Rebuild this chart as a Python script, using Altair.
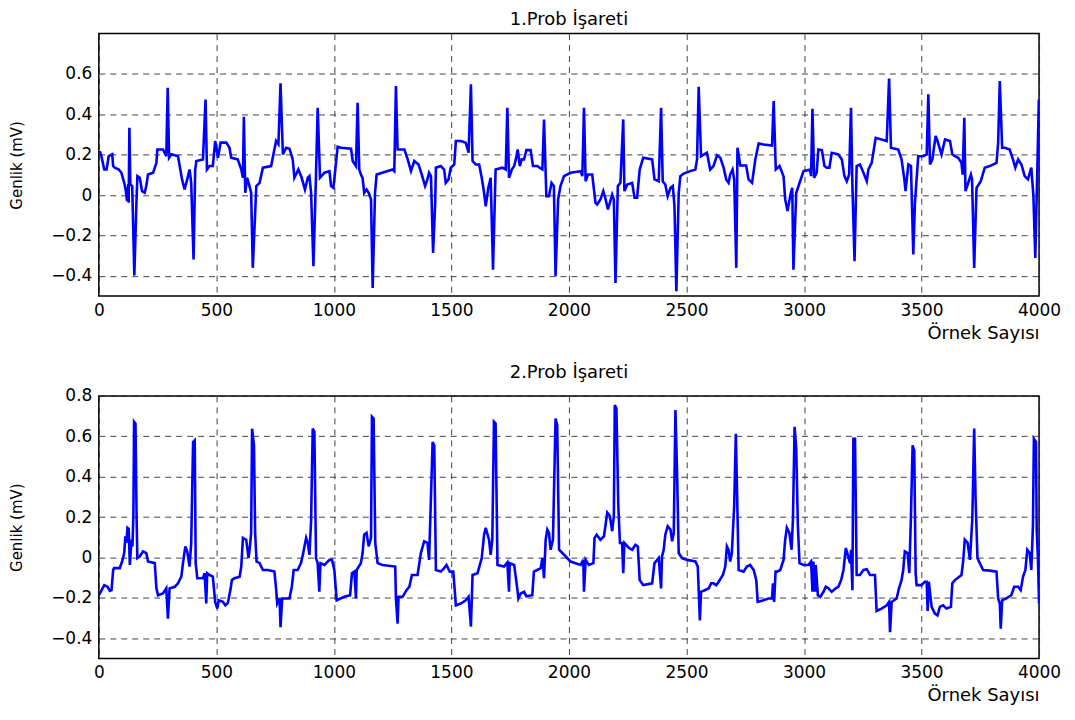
import altair as alt
import pandas as pd

# ---- 1.Prob signal (sample index, amplitude mV) ----
top_x = [4, 11, 23, 33, 42, 57, 61, 68, 85, 96, 108, 115, 120, 125, 127, 130, 134, 142, 151, 160,
         164, 174, 184, 195, 202, 209, 231, 245, 249, 273, 287, 293, 299, 309, 337, 344, 354, 365, 376, 386,
         393, 403, 410, 415, 443, 454, 460, 471, 485, 495, 507, 518, 542, 556, 563, 591, 606, 613, 617, 623,
         631, 641, 648, 655, 670, 684, 698, 733, 754, 764, 773, 783, 797, 811, 825, 832, 849, 863, 877, 889,
         896, 903, 913, 924, 931, 941, 960,
         981, 988, 998, 1006, 1016, 1030, 1073, 1080, 1094, 1101, 1108, 1115, 1122, 1129, 1139, 1148, 1158, 1165, 1175, 1182,
         1250, 1257, 1264, 1271, 1300, 1314, 1328, 1342, 1360, 1374, 1388, 1398, 1405, 1413, 1422, 1431, 1434, 1455, 1469, 1476,
         1488, 1497, 1512, 1519, 1540, 1561, 1573, 1583, 1590, 1604, 1618, 1629, 1639, 1646, 1657, 1667, 1677, 1688, 1717, 1731,
         1738, 1745, 1757, 1767, 1774, 1782, 1791, 1799, 1809, 1819, 1837, 1847, 1865, 1887, 1894, 1904, 1915, 1926, 1936, 1943,
         1954, 1964,
         1979, 2007, 2050, 2057, 2064, 2071, 2081, 2099, 2113, 2120, 2134, 2146, 2156, 2166, 2174, 2184, 2191, 2198, 2208, 2219,
         2231, 2236, 2248, 2269, 2279, 2290, 2301, 2316, 2354, 2364, 2382, 2392, 2399, 2410, 2420, 2432, 2442, 2449, 2457, 2467,
         2474, 2488, 2516, 2538, 2545, 2552, 2562, 2587, 2601, 2615, 2630, 2644, 2658, 2669, 2679, 2686, 2696, 2703, 2712, 2717,
         2729, 2754, 2764, 2779, 2793, 2807, 2828, 2864, 2871, 2880, 2896, 2913, 2920, 2930, 2941, 2950, 2955, 2967,
         2998, 3026, 3030, 3036, 3043, 3054, 3061, 3076, 3087, 3097, 3108, 3118, 3146, 3161, 3172, 3182, 3192, 3200, 3206, 3215,
         3224, 3238, 3253, 3267, 3274, 3288, 3305, 3352, 3362, 3370, 3401, 3415, 3427, 3432, 3444, 3455, 3465, 3472, 3486, 3507,
         3522, 3529, 3536, 3546, 3560, 3568, 3585, 3600, 3621, 3631, 3642, 3656, 3670, 3675, 3682, 3687, 3701, 3710, 3715, 3724,
         3734, 3752, 3769, 3790, 3819, 3826, 3833, 3843, 3854, 3875, 3889, 3899, 3911, 3925, 3939, 3953, 3967, 3976, 3984, 3993,
         3999]
top_y = [0.218, 0.193, 0.127, 0.127, 0.193, 0.202, 0.144, 0.136, 0.127, 0.111, 0.061, 0.020, -0.030, 0.053, -0.038, 0.334, 0.053, 0.045, -0.398, -0.038,
         0.094, 0.086, 0.020, 0.012, 0.045, 0.102, 0.111, 0.160, 0.226, 0.226, 0.193, 0.532, 0.185, 0.202, 0.193, 0.144, 0.078, 0.028, 0.078, 0.127,
         0.061, -0.319, 0.127, 0.169, 0.177, 0.474, 0.127, 0.144, 0.144, 0.268, 0.185, 0.260, 0.260, 0.235, 0.185, 0.177, 0.127, 0.086, 0.388, 0.012,
         0.086, 0.045, 0.012, -0.360, 0.045, 0.061, 0.136, 0.144, 0.268, 0.252, 0.554, 0.202, 0.235, 0.230, 0.177, 0.086, 0.127, 0.086, 0.028, 0.086,
         0.094, 0.012, -0.352, 0.102, 0.433, 0.086, 0.111,
         0.119, 0.045, 0.036, 0.127, 0.240, 0.235, 0.230, 0.169, 0.144, 0.458, 0.127, 0.102, 0.086, 0.012, 0.028, 0.012, -0.021, -0.460, 0.012, 0.102,
         0.127, 0.119, 0.540, 0.226, 0.226, 0.177, 0.119, 0.169, 0.152, 0.102, 0.045, 0.078, 0.111, 0.094, -0.286, -0.038, 0.136, 0.144, 0.127, 0.061,
         0.078, 0.136, 0.152, 0.268, 0.268, 0.260, 0.210, 0.549, 0.169, 0.152, 0.152, 0.086, 0.012, -0.055, 0.036, 0.086, -0.369, 0.127, 0.136, 0.127,
         0.433, 0.086, 0.127, 0.144, 0.177, 0.226, 0.144, 0.177, 0.177, 0.223, 0.223, 0.144, 0.144, 0.127, 0.375, -0.005, -0.005, 0.061, 0.045, -0.402,
         -0.021, 0.045,
         0.094, 0.111, 0.119, 0.094, 0.433, 0.069, 0.102, 0.102, -0.038, -0.046, -0.021, 0.020, -0.021, -0.071, -0.038, 0.003, -0.021, -0.435, 0.045, 0.061,
         0.375, 0.020, 0.053, 0.061, -0.013, -0.013, 0.127, 0.185, 0.177, 0.078, 0.069, 0.433, 0.069, 0.053, -0.005, 0.036, 0.045, -0.055, -0.476, 0.012,
         0.094, 0.107, 0.119, 0.127, 0.177, 0.537, 0.193, 0.210, 0.127, 0.144, 0.197, 0.185, 0.136, 0.078, 0.061, 0.102, 0.127, 0.078, -0.360, 0.235,
         0.147, 0.147, 0.078, 0.061, 0.177, 0.256, 0.251, 0.246, 0.466, 0.127, 0.144, 0.094, -0.021, -0.079, -0.005, 0.036, -0.369, 0.012,
         0.119, 0.127, 0.094, 0.428, 0.086, 0.111, 0.226, 0.223, 0.144, 0.136, 0.136, 0.210, 0.202, 0.177, 0.094, 0.069, 0.102, 0.433, 0.045, -0.327,
         0.144, 0.152, 0.111, 0.069, 0.127, 0.160, 0.284, 0.268, 0.577, 0.235, 0.226, 0.177, 0.078, 0.020, 0.152, 0.144, -0.294, -0.038, 0.193, 0.193,
         0.202, 0.499, 0.152, 0.177, 0.293, 0.268, 0.202, 0.276, 0.268, 0.202, 0.193, 0.185, 0.160, 0.102, 0.383, 0.020, 0.069, 0.102, 0.078, -0.360,
         0.036, 0.069, 0.136, 0.144, 0.160, 0.260, 0.565, 0.235, 0.235, 0.226, 0.177, 0.136, 0.177, 0.152, 0.094, 0.078, 0.136, -0.005, -0.311, 0.144,
         0.474]

# ---- 2.Prob signal ----
bot_x = [0, 8, 23, 37, 47, 54, 61, 65, 89, 99, 108, 113, 117, 122, 127, 132, 139, 143, 147, 150,
         156, 161, 164, 174, 188, 202, 209, 238, 245, 252, 273, 287, 294, 301, 323, 337, 351, 358, 368, 376,
         386, 393, 401, 408, 412, 419, 443, 450, 457, 461, 471, 485, 495, 504, 510, 528, 538, 549, 561, 566,
         577, 599, 606, 613, 627, 637, 643, 648, 652, 660, 665, 671, 684, 698, 719, 747, 754, 759, 769, 773,
         780, 797, 811, 821, 829, 846, 860, 868, 875, 882, 889, 896, 903, 910, 917, 924, 931, 938, 943, 960,
         981, 992, 1002, 1012, 1044, 1069, 1077, 1087, 1094, 1097, 1115, 1122, 1129, 1139, 1148, 1158, 1162, 1169, 1176, 1186,
         1207, 1261, 1264, 1271, 1275, 1292, 1309, 1321, 1332, 1356, 1370, 1384, 1398, 1405, 1420, 1427, 1434, 1455, 1469, 1479,
         1493, 1508, 1519, 1540, 1561, 1573, 1583, 1590, 1611, 1629, 1639, 1646, 1660, 1667, 1674, 1681, 1688, 1696, 1724, 1738,
         1745, 1748, 1767, 1781, 1785, 1795, 1809, 1819, 1844, 1851, 1865, 1880, 1887, 1894, 1901, 1908, 1915, 1922, 1932, 1943,
         1950, 1958, 1972,
         2007, 2050, 2061, 2064, 2071, 2085, 2104, 2109, 2118, 2134, 2149, 2156, 2163, 2174, 2184, 2191, 2195, 2202, 2210, 2217,
         2226, 2231, 2236, 2255, 2269, 2283, 2293, 2301, 2316, 2354, 2364, 2382, 2392, 2396, 2403, 2410, 2420, 2432, 2439, 2446,
         2453, 2460, 2467, 2481, 2503, 2538, 2548, 2552, 2557, 2562, 2573, 2595, 2605, 2615, 2627, 2637, 2655, 2665, 2672, 2679,
         2686, 2693, 2703, 2710, 2715, 2722, 2743, 2757, 2771, 2786, 2797, 2803, 2828, 2849, 2864, 2868, 2873, 2879, 2885, 2899,
         2913, 2920, 2927, 2938, 2947, 2953, 2960, 2967, 2974, 2981,
         2998, 3019, 3030, 3036, 3040, 3047, 3050, 3059, 3069, 3083, 3093, 3104, 3118, 3135, 3146, 3158, 3168, 3178, 3186, 3196,
         3200, 3206, 3210, 3217, 3224, 3238, 3253, 3267, 3281, 3302, 3309, 3330, 3352, 3362, 3366, 3373, 3394, 3404, 3415, 3422,
         3429, 3441, 3448, 3455, 3462, 3469, 3475, 3479, 3500, 3514, 3522, 3526, 3531, 3543, 3557, 3568, 3578, 3592, 3606, 3625,
         3631, 3642, 3670, 3677, 3684, 3696, 3706, 3716, 3724, 3730, 3738, 3748, 3762, 3790, 3819, 3826, 3833, 3837, 3843, 3861,
         3882, 3894, 3911, 3922, 3932, 3942, 3950, 3960, 3967, 3974, 3978, 3987, 3990, 3995, 4000]
bot_y = [-0.187, -0.170, -0.137, -0.145, -0.165, -0.162, -0.062, -0.053, -0.053, -0.020, 0.022, 0.105, 0.072, 0.147, 0.142, -0.037, 0.088, 0.055, 0.205, 0.672,
         0.663, 0.172, -0.003, 0.005, 0.030, 0.022, -0.020, -0.028, -0.153, -0.187, -0.178, -0.153, -0.303, -0.153, -0.145, -0.128, -0.095, -0.028, 0.055, 0.030,
         -0.045, 0.072, 0.572, 0.580, -0.028, -0.103, -0.103, -0.078, -0.228, -0.078, -0.087, -0.095, -0.220, -0.253, -0.212, -0.220, -0.237, -0.225, -0.153, -0.112,
         -0.103, -0.095, -0.045, 0.097, 0.088, -0.003, 0.055, 0.122, 0.638, 0.555, 0.122, -0.020, -0.028, -0.062, -0.062, -0.070, -0.153, -0.228, -0.203, -0.345,
         -0.203, -0.203, -0.203, -0.145, -0.062, -0.062, -0.028, 0.013, 0.055, 0.097, 0.072, 0.013, 0.180, 0.638, 0.622, -0.003, -0.028, -0.170, -0.028, -0.037,
         -0.012, -0.012, -0.062, -0.212, -0.195, -0.187, -0.078, -0.070, -0.203, -0.062, -0.028, 0.022, 0.113, 0.122, 0.055, 0.097, 0.697, 0.688, 0.072, -0.028,
         -0.037, -0.045, -0.203, -0.328, -0.195, -0.195, -0.162, -0.145, -0.087, -0.087, 0.022, 0.080, 0.072, -0.012, 0.572, 0.555, -0.062, -0.070, -0.053, -0.037,
         -0.070, -0.070, -0.237, -0.228, -0.212, -0.195, -0.342, -0.087, -0.078, -0.003, 0.113, 0.147, 0.088, 0.013, 0.088, 0.672, 0.663, -0.037, -0.045, -0.025,
         -0.170, -0.028, -0.037, -0.162, -0.203, -0.178, -0.170, -0.192, -0.187, -0.070, -0.062, -0.053, -0.003, -0.103, 0.088, 0.138, 0.122, 0.038, 0.088, 0.688,
         0.655, 0.038, 0.022,
         -0.020, -0.037, -0.012, -0.170, -0.012, -0.037, -0.028, 0.097, 0.113, 0.088, 0.105, 0.163, 0.222, 0.205, 0.130, 0.205, 0.755, 0.738, 0.255, 0.072,
         0.072, -0.078, 0.072, 0.047, 0.038, 0.063, 0.055, -0.112, -0.137, -0.128, -0.028, -0.003, -0.153, 0.005, 0.038, 0.113, 0.155, 0.138, 0.080, 0.122,
         0.730, 0.422, 0.022, -0.003, -0.012, -0.020, -0.045, -0.162, -0.312, -0.170, -0.165, -0.153, -0.128, -0.128, -0.137, -0.120, -0.087, -0.045, 0.055, 0.038,
         -0.020, 0.022, 0.255, 0.613, 0.338, -0.062, -0.070, -0.045, -0.037, -0.062, -0.112, -0.220, -0.212, -0.203, -0.203, -0.128, -0.220, -0.070, -0.070, -0.062,
         -0.012, 0.088, 0.147, 0.122, 0.038, 0.188, 0.647, 0.538, 0.155, -0.028,
         -0.037, -0.037, -0.020, -0.170, -0.020, -0.170, -0.037, -0.187, -0.195, -0.170, -0.145, -0.153, -0.170, -0.153, -0.145, -0.112, -0.062, 0.047, 0.013, -0.028,
         0.038, -0.162, 0.588, 0.588, -0.087, -0.087, -0.062, -0.058, -0.087, -0.087, -0.265, -0.253, -0.237, -0.220, -0.370, -0.220, -0.203, -0.153, -0.112, -0.062,
         0.030, 0.022, -0.078, 0.205, 0.555, 0.530, -0.078, -0.137, -0.137, -0.120, -0.120, -0.265, -0.120, -0.245, -0.278, -0.287, -0.245, -0.237, -0.253, -0.245,
         -0.128, -0.112, -0.087, -0.020, 0.088, 0.072, -0.012, 0.188, 0.638, 0.288, -0.003, -0.028, -0.062, -0.065, -0.070, -0.203, -0.228, -0.353, -0.212, -0.203,
         -0.187, -0.145, -0.145, -0.162, -0.095, -0.062, 0.038, 0.022, -0.062, 0.155, 0.588, 0.572, 0.138, 0.005, -0.228]

x_ticks = [0, 500, 1000, 1500, 2000, 2500, 3000, 3500, 4000]
top_yticks = [-0.4, -0.2, 0, 0.2, 0.4, 0.6]
bot_yticks = [-0.4, -0.2, 0, 0.2, 0.4, 0.6, 0.8]
titles = ["1.Prob İşareti", "2.Prob İşareti"]
x_title = "Örnek Sayısı"
y_title = "Genlik (mV)"

FONT = "DejaVu Sans"


def panel(xs, ys, title, yticks):
    df = pd.DataFrame({"x": xs, "y": ys})
    return (
        alt.Chart(df, title=alt.Title(title, fontSize=18, font=FONT, fontWeight="normal",
                                      color="black", offset=5))
        .mark_line(color="#0000ff", strokeWidth=2.6, clip=True)
        .encode(
            x=alt.X("x:Q", scale=alt.Scale(domain=[0, 4000], nice=False, zero=False),
                    axis=alt.Axis(values=x_ticks, title=x_title, titleAnchor="end",
                                  format="d")),
            y=alt.Y("y:Q", scale=alt.Scale(domain=[-0.5, 0.8], nice=False, zero=False),
                    axis=alt.Axis(values=yticks, title=y_title,
                                  labelExpr="datum.value == 0 ? '0' : format(datum.value, '.1f')")),
        )
        .properties(width=942, height=263)
    )


chart = (
    alt.vconcat(panel(top_x, top_y, titles[0], top_yticks),
                panel(bot_x, bot_y, titles[1], bot_yticks), spacing=20)
    .properties(padding={"left": 0, "top": 1, "right": 5, "bottom": 0})
    .configure_view(stroke="black", strokeWidth=1.5)
    .configure_axis(
        grid=True, gridColor="#222222", gridDash=[6, 5], gridWidth=1, gridOpacity=0.85,
        domain=False, ticks=False, tickSize=0, labelFlush=False, labelOverlap=False,
        labelFont=FONT, labelFontSize=17, labelColor="black",
        titleFont=FONT, titleColor="black", titleFontWeight="normal",
    )
    .configure_axisX(labelPadding=6, titleFontSize=18, titlePadding=6)
    .configure_axisY(labelPadding=7, titleFontSize=15, titlePadding=26)
)

chart.save("out.html", embed_options={"renderer": "svg", "actions": False})
